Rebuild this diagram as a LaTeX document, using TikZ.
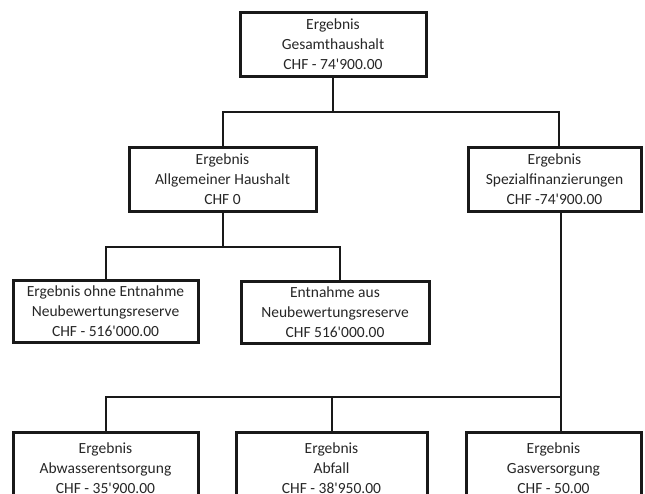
\documentclass[tikz,border=0pt]{standalone}
\usepackage{fontspec}
\setmainfont{Carlito}[Ligatures=TeXOff]
\usepackage{tikz}

\begin{document}
\begin{tikzpicture}[x=1pt,y=-1pt,line width=2pt,draw=black!90]
    \tikzstyle{box}=[draw,line width=3pt,align=center,inner sep=0pt,font=\fontsize{15.5}{20}\selectfont,text=black!85]
    \tikzstyle{wide box}=[box,minimum width=187pt,minimum height=62pt]
    \tikzstyle{low box}=[box,minimum height=72pt]
    \useasboundingbox (0,0) rectangle (645,493);
    % Draw the top node
    \node[box,minimum width=186pt,minimum height=64pt] (gesamt) at (333,44) {Ergebnis\\Gesamthaushalt\\CHF - 74'900.00};
    % Draw the second level
    \node[wide box,minimum height=64pt] (allg) at (222.5,179) {Ergebnis\\Allgemeiner Haushalt\\CHF 0};
    \node[box,minimum width=173pt,minimum height=64pt] (spez) at (554.5,179) {Ergebnis\\Spezialfinanzierungen\\CHF -74'900.00};
    % Draw the children of the general budget
    \node[wide box,minimum width=185pt] (ohne) at (105.5,311) {Ergebnis ohne Entnahme\\Neubewertungsreserve\\CHF - 516'000.00};
    \node[wide box,minimum width=188pt] (entn) at (335,312) {Entnahme aus\\Neubewertungsreserve\\CHF 516'000.00};
    % Draw the children of the special financing
    \node[low box,minimum width=185pt] (abw) at (105.5,468) {Ergebnis\\Abwasserentsorgung\\CHF - 35'900.00};
    \node[low box,minimum width=191pt] (abf) at (331.5,468) {Ergebnis\\Abfall\\CHF - 38'950.00};
    \node[low box,minimum width=175pt] (gas) at (553.5,468) {Ergebnis\\Gasversorgung\\CHF - 50.00};
    % Connectors
    \coordinate (bus1) at (333,112);
    \coordinate (bus2) at (222,247);
    \coordinate (bus3) at (561,397);
    \draw (gesamt) -- (bus1);
    \draw (allg.north) |- (bus1) -| ([xshift=4pt]spez.north);
    \draw (allg.south) -- (allg.south |- bus2);
    \draw (ohne.north) |- (bus2) -| ([xshift=5pt]entn.north);
    \draw ([xshift=6.5pt]spez.south) -- (bus3);
    \draw (abw.north) |- (bus3) -- (bus3 |- gas.north);
    \draw (abf.north) -- (abf.north |- bus3);
\end{tikzpicture}
\end{document}
